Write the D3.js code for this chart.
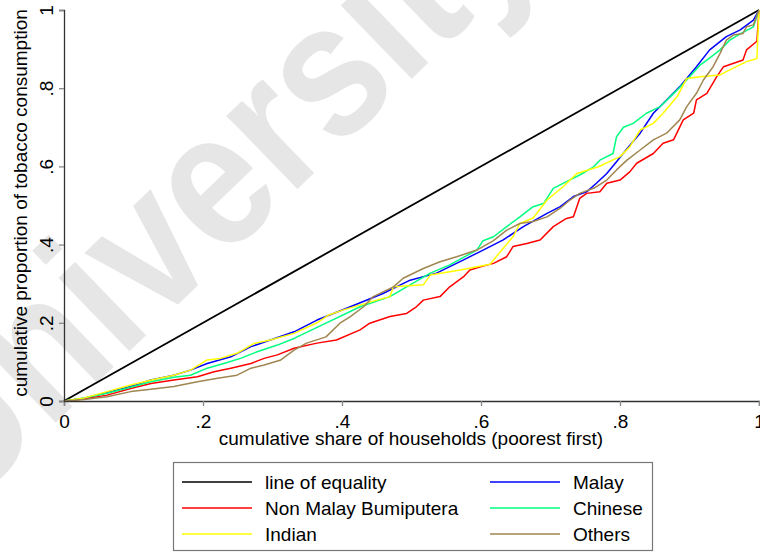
<!DOCTYPE html>
<html>
<head>
<meta charset="utf-8">
<script src="https://cdn.jsdelivr.net/npm/d3@7"></script>
<style>
  html, body { margin: 0; padding: 0; background: #fff; }
  svg { display: block; }
  text { font-family: "Liberation Sans", Arial, sans-serif; }
</style>
</head>
<body>
<div id="chart"></div>
<script>
// Concentration curves of tobacco consumption by ethnic group
const xTicks = [0, 0.2, 0.4, 0.6, 0.8, 1];
const xTickLabels = ["0", ".2", ".4", ".6", ".8", "1"];
const yTicks = [0, 0.2, 0.4, 0.6, 0.8, 1];
const yTickLabels = ["0", ".2", ".4", ".6", ".8", "1"];

const equality = [[0, 0], [1, 1]];

const malay = [[0,0],[0.029,0.007],[0.058,0.02],[0.096,0.037],[0.125,0.054],[0.158,0.066],[0.182,0.079],
  [0.206,0.096],[0.24,0.113],[0.269,0.139],[0.297,0.156],[0.331,0.177],[0.364,0.207],[0.412,0.241],
  [0.459,0.275],[0.498,0.309],[0.536,0.327],[0.575,0.361],[0.603,0.386],[0.632,0.412],[0.661,0.446],
  [0.695,0.48],[0.714,0.497],[0.733,0.523],[0.752,0.535],[0.766,0.557],[0.781,0.582],[0.795,0.612],
  [0.81,0.645],[0.829,0.685],[0.848,0.736],[0.867,0.77],[0.886,0.804],[0.91,0.855],[0.929,0.898],
  [0.953,0.932],[0.973,0.949],[0.992,0.974],[1,1]];

const nonMalayBumiputera = [[0,0],[0.029,0.005],[0.062,0.015],[0.096,0.032],[0.125,0.045],[0.158,0.054],
  [0.192,0.062],[0.216,0.075],[0.24,0.084],[0.269,0.096],[0.288,0.109],[0.307,0.118],[0.331,0.135],
  [0.364,0.148],[0.392,0.156],[0.426,0.182],[0.44,0.199],[0.469,0.216],[0.493,0.224],[0.507,0.241],
  [0.517,0.258],[0.541,0.267],[0.555,0.292],[0.575,0.318],[0.584,0.335],[0.603,0.345],[0.618,0.352],
  [0.637,0.369],[0.646,0.395],[0.666,0.403],[0.685,0.412],[0.704,0.446],[0.723,0.467],[0.733,0.471],
  [0.742,0.518],[0.752,0.531],[0.771,0.535],[0.781,0.557],[0.8,0.565],[0.814,0.586],[0.824,0.608],
  [0.848,0.633],[0.862,0.659],[0.877,0.668],[0.891,0.719],[0.906,0.736],[0.91,0.77],[0.925,0.787],
  [0.939,0.829],[0.949,0.855],[0.977,0.872],[0.982,0.898],[0.997,0.92],[1,1]];

const chinese = [[0,0],[0.029,0.008],[0.062,0.02],[0.096,0.035],[0.125,0.049],[0.158,0.061],[0.182,0.066],
  [0.206,0.084],[0.23,0.096],[0.254,0.109],[0.278,0.126],[0.307,0.143],[0.331,0.16],[0.377,0.199],
  [0.426,0.241],[0.469,0.267],[0.493,0.292],[0.527,0.327],[0.555,0.348],[0.594,0.386],[0.603,0.41],
  [0.618,0.42],[0.637,0.446],[0.656,0.471],[0.675,0.497],[0.69,0.505],[0.704,0.544],[0.723,0.561],
  [0.742,0.578],[0.762,0.599],[0.771,0.616],[0.79,0.633],[0.795,0.676],[0.805,0.7],[0.819,0.71],
  [0.838,0.736],[0.858,0.753],[0.882,0.795],[0.896,0.821],[0.915,0.859],[0.925,0.872],[0.944,0.898],
  [0.958,0.923],[0.973,0.939],[0.992,0.957],[1,1]];

const indian = [[0,0],[0.029,0.008],[0.062,0.024],[0.096,0.041],[0.129,0.055],[0.158,0.066],[0.182,0.079],
  [0.206,0.105],[0.225,0.109],[0.249,0.122],[0.273,0.147],[0.297,0.156],[0.331,0.173],[0.364,0.2],
  [0.381,0.22],[0.402,0.233],[0.45,0.258],[0.469,0.267],[0.474,0.292],[0.517,0.297],[0.527,0.322],
  [0.57,0.335],[0.613,0.35],[0.627,0.38],[0.646,0.42],[0.656,0.454],[0.675,0.468],[0.695,0.514],
  [0.718,0.548],[0.738,0.582],[0.769,0.599],[0.8,0.625],[0.814,0.65],[0.829,0.693],[0.848,0.71],
  [0.862,0.736],[0.882,0.778],[0.896,0.825],[0.915,0.829],[0.944,0.834],[0.958,0.847],[0.982,0.868],
  [0.997,0.876],[1,1]];

const others = [[0,0],[0.029,0.004],[0.062,0.011],[0.096,0.024],[0.125,0.03],[0.158,0.037],[0.192,0.049],
  [0.221,0.058],[0.249,0.066],[0.269,0.084],[0.288,0.092],[0.312,0.105],[0.331,0.13],[0.349,0.148],
  [0.377,0.164],[0.397,0.199],[0.412,0.216],[0.431,0.241],[0.445,0.267],[0.474,0.292],[0.488,0.314],
  [0.517,0.339],[0.541,0.356],[0.565,0.369],[0.594,0.386],[0.618,0.41],[0.637,0.437],[0.656,0.454],
  [0.675,0.459],[0.695,0.471],[0.714,0.493],[0.728,0.514],[0.742,0.531],[0.762,0.544],[0.781,0.565],
  [0.795,0.591],[0.81,0.616],[0.829,0.642],[0.848,0.668],[0.867,0.685],[0.886,0.719],[0.896,0.753],
  [0.91,0.787],[0.92,0.821],[0.934,0.855],[0.944,0.889],[0.953,0.923],[0.963,0.936],[0.977,0.94],
  [0.982,0.957],[0.992,0.962],[1,1]];

const seriesNames = ["line of equality", "Malay", "Non Malay Bumiputera", "Chinese", "Indian", "Others"];
const seriesData = [equality, malay, nonMalayBumiputera, chinese, indian, others];
const seriesColors = ["#000000", "#0000ff", "#ff0000", "#00ff80", "#ffff00", "#a08650"];

const W = 760, H = 552;
const svg = d3.select("#chart").append("svg").attr("width", W).attr("height", H);

// faint diagonal watermark behind everything
svg.append("text")
  .text("University")
  .attr("font-size", 168)
  .attr("font-weight", "bold")
  .attr("fill", "#e6e6e6")
  .attr("transform", "translate(-40,515) rotate(-44) scale(1,1.15)");

const x = d3.scaleLinear().domain([0, 1]).range([64, 759]);
const y = d3.scaleLinear().domain([0, 1]).range([401, 10]);

// curves
const line = d3.line().x(d => x(d[0])).y(d => y(d[1]));
seriesData.forEach((d, i) => {
  svg.append("path")
    .datum(d)
    .attr("fill", "none")
    .attr("stroke", seriesColors[i])
    .attr("stroke-width", i === 0 ? 1.8 : 1.5)
    .attr("stroke-linejoin", "round")
    .attr("d", line);
});

// x axis
const xAxis = svg.append("g")
  .attr("transform", "translate(0,401)")
  .call(d3.axisBottom(x).tickValues(xTicks).tickFormat((d, i) => xTickLabels[i]).tickSize(5).tickPadding(6));
// y axis
const yAxis = svg.append("g")
  .attr("transform", "translate(64,0)")
  .call(d3.axisLeft(y).tickValues(yTicks).tickFormat((d, i) => yTickLabels[i]).tickSize(5));

[xAxis, yAxis].forEach(g => {
  g.select(".domain").attr("stroke", "#333").attr("stroke-width", 1.3);
  g.selectAll(".tick line").attr("stroke", "#888").attr("stroke-width", 1.3);
  g.selectAll(".tick text").attr("font-size", 19).attr("fill", "#000")
    .attr("font-family", "'Liberation Sans', Arial, sans-serif");
});
xAxis.selectAll(".tick text").attr("dy", null).attr("y", 27);
yAxis.selectAll(".tick text")
  .attr("x", null).attr("dy", null)
  .attr("text-anchor", "middle")
  .attr("transform", "translate(-11,0) rotate(-90)");

// axis titles
svg.append("text")
  .attr("x", 411).attr("y", 445)
  .attr("text-anchor", "middle")
  .attr("font-size", 19)
  .text("cumulative share of households (poorest first)");
svg.append("text")
  .attr("transform", "translate(27,203) rotate(-90)")
  .attr("text-anchor", "middle")
  .attr("font-size", 19)
  .text("cumulative proportion of tobacco consumption");

// legend
const lg = svg.append("g");
lg.append("rect").attr("x", 173.5).attr("y", 462.5).attr("width", 479).attr("height", 88)
  .attr("fill", "#fff").attr("stroke", "#777").attr("stroke-width", 1.2);
seriesNames.forEach((name, i) => {
  const col = i % 2, row = Math.floor(i / 2);
  const lx = col === 0 ? 182 : 490;
  const ly = 482 + row * 26;
  lg.append("line").attr("x1", lx).attr("x2", lx + 70).attr("y1", ly).attr("y2", ly)
    .attr("stroke", seriesColors[i]).attr("stroke-width", 1.5);
  lg.append("text").attr("x", lx + 83).attr("y", ly + 7).attr("font-size", 19).text(name);
});
</script>
</body>
</html>
